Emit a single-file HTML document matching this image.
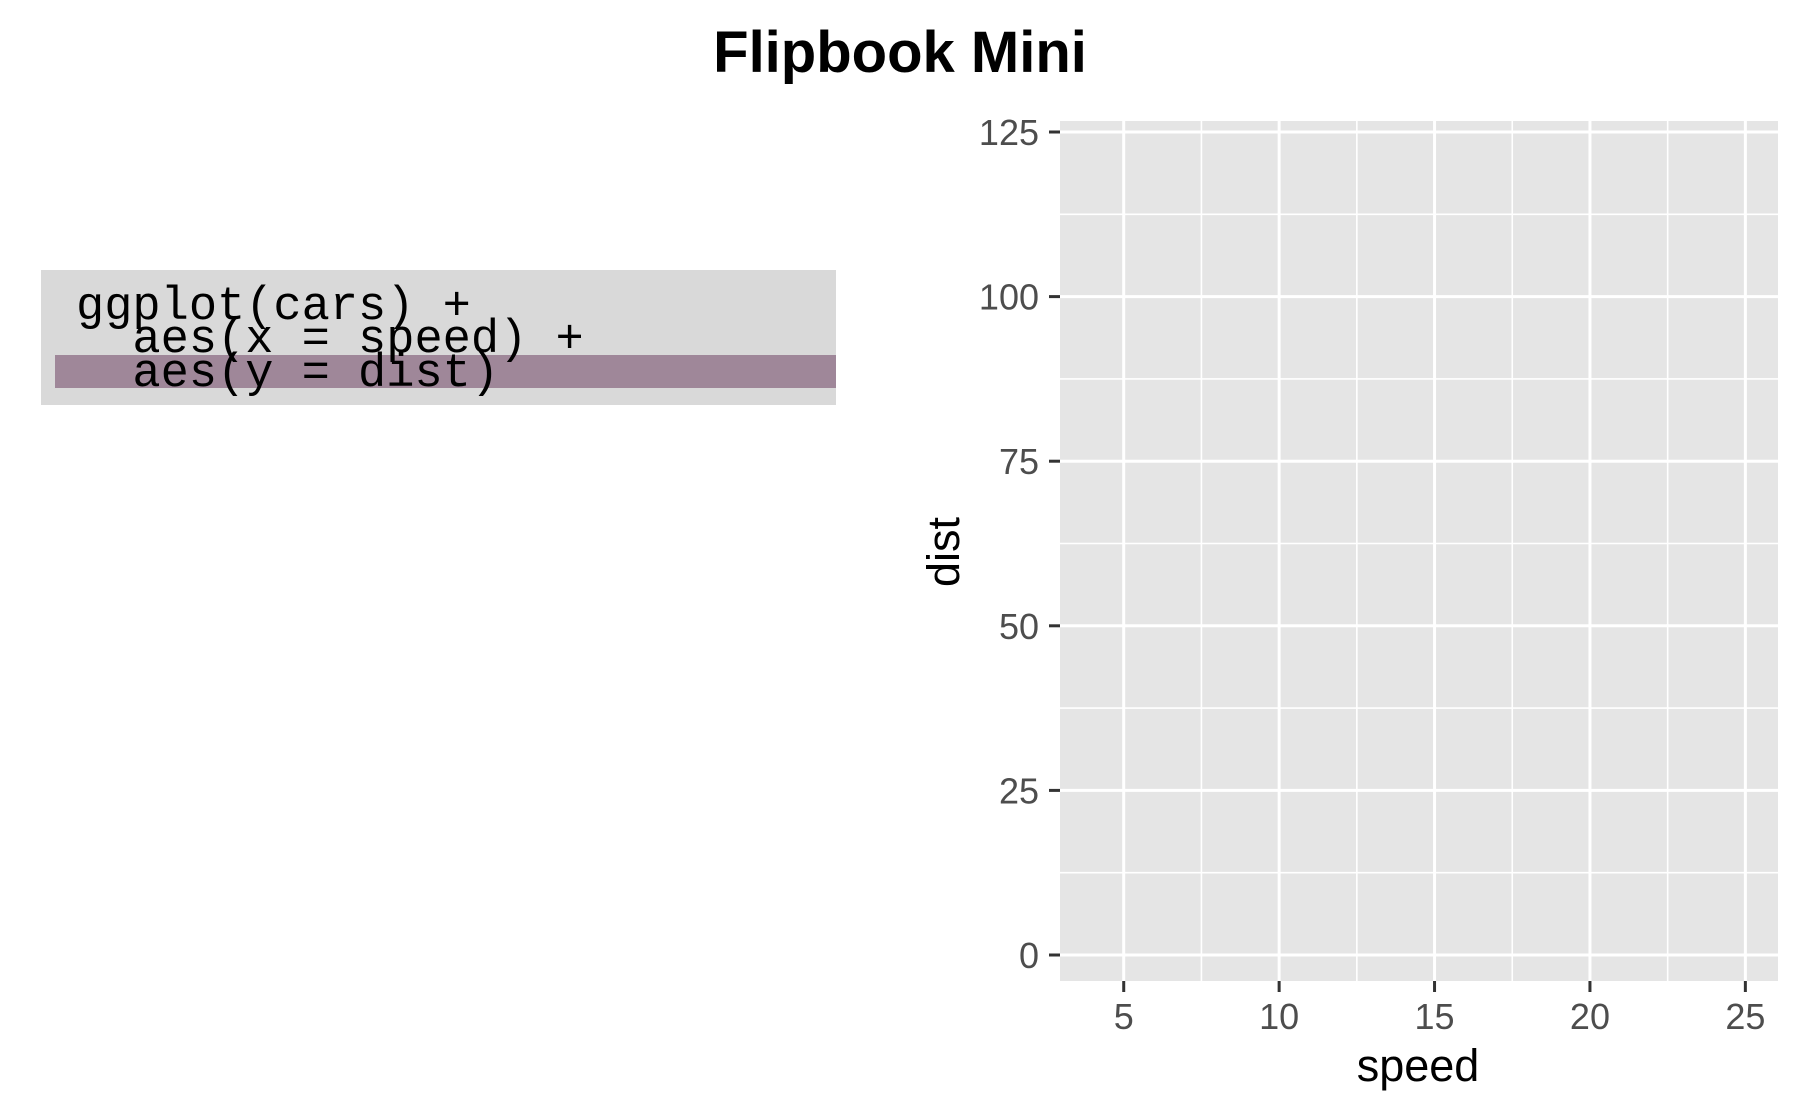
<!DOCTYPE html>
<html><head><meta charset="utf-8"><style>
body{margin:0;background:#fff;}
svg text{font-family:"Liberation Sans",sans-serif;}
</style></head><body>
<svg width="1800" height="1113" viewBox="0 0 1800 1113" xmlns="http://www.w3.org/2000/svg">
<rect width="1800" height="1113" fill="#fff"/>
<text x="900" y="72" font-size="58" font-weight="bold" text-anchor="middle" fill="#000">Flipbook Mini</text>
<g>
<rect x="41" y="270" width="795" height="135" fill="#d9d9d9"/>
<rect x="55" y="355" width="781" height="33" fill="#9f8799"/>
<text x="76" y="319" font-size="47" style="font-family:'Liberation Mono',monospace" xml:space="preserve" fill="#000">ggplot(cars) +</text>
<text x="76" y="352" font-size="47" style="font-family:'Liberation Mono',monospace" xml:space="preserve" fill="#000">  aes(x = speed) +</text>
<text x="76" y="386" font-size="47" style="font-family:'Liberation Mono',monospace" xml:space="preserve" fill="#000">  aes(y = dist)</text>
</g>
<g id="plot"></g>
<text x="1418" y="1081" font-size="45" text-anchor="middle" fill="#000">speed</text>
<text transform="translate(959,552) rotate(-90)" font-size="45" text-anchor="middle" fill="#000">dist</text>
</svg>
<script>
const xTicks=[5,10,15,20,25];
const yTicks=[0,25,50,75,100,125];
const xMinor=[7.5,12.5,17.5,22.5];
const yMinor=[12.5,37.5,62.5,87.5,112.5];
const xDomain=[2.95,26.05];
const L=1060,R=1778,T=121,B=981;
const sx=v=>L+(v-xDomain[0])/(xDomain[1]-xDomain[0])*(R-L);
const y0=955,yk=(955-132)/125;
const sy=v=>y0-v*yk;
const NS="http://www.w3.org/2000/svg";
const g=document.getElementById('plot');
function mk(t,a){const e=document.createElementNS(NS,t);for(const k in a)e.setAttribute(k,a[k]);g.appendChild(e);return e;}
const bg=mk('rect',{x:L,y:T,width:R-L,height:B-T,fill:'#e5e5e5'});


xMinor.forEach(v=>{const e=mk('line',{x1:sx(v),x2:sx(v),y1:T,y2:B,stroke:'#fff','stroke-width':1.6});

});
yMinor.forEach(v=>{const e=mk('line',{x1:L,x2:R,y1:sy(v),y2:sy(v),stroke:'#fff','stroke-width':1.6});

});
xTicks.forEach(v=>{const x=sx(v);
const e=mk('line',{x1:x,x2:x,y1:T,y2:B,stroke:'#fff','stroke-width':3});


const t=mk('line',{x1:x,x2:x,y1:B,y2:B+11,stroke:'#333','stroke-width':3});


const l=mk('text',{x:x,y:1029,'font-size':36,'text-anchor':'middle',fill:'#4d4d4d'});l.textContent=v;

});
yTicks.forEach(v=>{const y=sy(v);
const e=mk('line',{x1:L,x2:R,y1:y,y2:y,stroke:'#fff','stroke-width':3});


const t=mk('line',{x1:L-11,x2:L,y1:y,y2:y,stroke:'#333','stroke-width':3});


const l=mk('text',{x:1039,y:y+13,'font-size':36,'text-anchor':'end',fill:'#4d4d4d'});l.textContent=v;

});
</script>
</body></html>
